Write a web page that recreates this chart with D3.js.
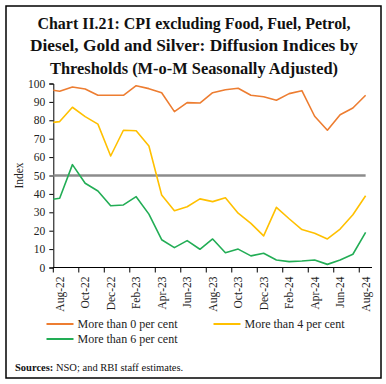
<!DOCTYPE html>
<html>
<head>
<meta charset="utf-8">
<script src="https://cdn.jsdelivr.net/npm/d3@7"></script>
<style>
  body { margin: 0; background: #fff; }
  svg { display: block; font-family: "Liberation Serif", serif; }
</style>
</head>
<body>
<svg id="chart" width="386" height="384"></svg>
<script>
// Months (Jul-22 only shows as the clipped stub at the left edge)
const months = ["Jul-22", "Aug-22", "Sep-22", "Oct-22", "Nov-22", "Dec-22", "Jan-23", "Feb-23", "Mar-23",
  "Apr-23", "May-23", "Jun-23", "Jul-23", "Aug-23", "Sep-23", "Oct-23", "Nov-23", "Dec-23",
  "Jan-24", "Feb-24", "Mar-24", "Apr-24", "May-24", "Jun-24", "Jul-24", "Aug-24"];

const tickLabels = ["Aug-22", "Oct-22", "Dec-22", "Feb-23", "Apr-23", "Jun-23", "Aug-23",
  "Oct-23", "Dec-23", "Feb-24", "Apr-24", "Jun-24", "Aug-24"];

const yTicks = [0, 10, 20, 30, 40, 50, 60, 70, 80, 90, 100];

// Diffusion indices
const moreThan0 = [96.8, 95.8, 98.1, 97.0, 93.6, 93.6, 93.6, 98.8, 97.2, 95.0, 84.7, 89.6, 89.4,
  95.0, 96.6, 97.4, 93.6, 92.8, 90.9, 94.5, 96.1, 82.2, 74.6, 83.0, 86.7, 93.6];
const moreThan4 = [78.5, 79.3, 87.1, 82.0, 77.9, 60.6, 74.6, 74.3, 66.0, 39.4, 30.9, 33.0, 37.3,
  35.8, 37.9, 29.5, 24.0, 17.2, 32.7, 26.5, 20.6, 18.6, 15.5, 20.9, 28.7, 39.0];
const moreThan6 = [36.6, 37.6, 55.9, 45.8, 41.6, 33.6, 34.0, 38.5, 29.0, 15.1, 10.8, 14.6, 9.9,
  15.5, 8.0, 10.0, 6.3, 7.7, 4.1, 3.2, 3.5, 4.1, 1.7, 4.1, 7.2, 19.1];
const threshold = months.map(() => 50);

const seriesNames = ["More than 0 per cent", "More than 4 per cent", "More than 6 per cent"];
const colors = ["#ED7D31", "#FFC000", "#22AD55"];

const svg = d3.select("#chart");

// Frame
svg.append("rect")
  .attr("x", 6).attr("y", 6)
  .attr("width", 375).attr("height", 372)
  .attr("fill", "none").attr("stroke", "#000").attr("stroke-width", 1.5);

// Title
const titleLines = [
  "Chart II.21: CPI excluding Food, Fuel, Petrol,",
  "Diesel, Gold and Silver: Diffusion Indices by",
  "Thresholds (M-o-M Seasonally Adjusted)"
];
const titleWidths = [313, 328, 288];
svg.append("g").selectAll("text")
  .data(titleLines)
  .enter().append("text")
  .attr("x", 194)
  .attr("y", (d, i) => 29 + i * 22.3)
  .attr("text-anchor", "middle")
  .attr("font-size", 16)
  .attr("font-weight", "bold")
  .attr("fill", "#111")
  .attr("textLength", (d, i) => titleWidths[i])
  .attr("lengthAdjust", "spacingAndGlyphs")
  .text(d => d);

// Plot area
const plotLeft = 53.3, plotRight = 372, plotTop = 83.5, plotBottom = 267.5;
const step = (plotRight - plotLeft) / 25;

const x = d3.scalePoint()
  .domain(months)
  .range([plotLeft - step / 2, plotRight - step / 2]);

const y = d3.scaleLinear()
  .domain([0, 100])
  .range([plotBottom, plotTop]);

svg.append("defs").append("clipPath")
  .attr("id", "plot-clip")
  .append("rect")
  .attr("x", plotLeft).attr("y", 0)
  .attr("width", plotRight - plotLeft).attr("height", 384);

// Y axis
const yAxis = svg.append("g")
  .attr("transform", "translate(" + plotLeft + ",0)")
  .call(d3.axisLeft(y).tickValues(yTicks).tickSize(4).tickPadding(4));
yAxis.select(".domain").attr("stroke", "#000");
yAxis.selectAll("text")
  .attr("font-family", "Liberation Serif")
  .attr("font-size", 11.5)
  .attr("fill", "#222");

svg.append("text")
  .attr("transform", "rotate(-90)")
  .attr("x", -y(50))
  .attr("y", 23)
  .attr("text-anchor", "middle")
  .attr("font-size", 11.5)
  .attr("fill", "#222")
  .text("Index");

// X axis
svg.append("line")
  .attr("x1", plotLeft).attr("x2", plotRight)
  .attr("y1", plotBottom).attr("y2", plotBottom)
  .attr("stroke", "#000");

svg.append("g").selectAll("line")
  .data(tickLabels)
  .enter().append("line")
  .attr("x1", d => x(d) - step / 2)
  .attr("x2", d => x(d) - step / 2)
  .attr("y1", plotBottom)
  .attr("y2", plotBottom + 5)
  .attr("stroke", "#000");

svg.append("g").selectAll("text")
  .data(tickLabels)
  .enter().append("text")
  .attr("transform", d => "translate(" + (x(d) + 4) + "," + (plotBottom + 9) + ") rotate(-90)")
  .attr("text-anchor", "end")
  .attr("font-size", 11.5)
  .attr("fill", "#222")
  .text(d => d);

// Lines
const line = d3.line()
  .x((d, i) => x(months[i]))
  .y(d => y(d));

const plot = svg.append("g").attr("clip-path", "url(#plot-clip)");

plot.append("path")
  .datum(threshold)
  .attr("d", line)
  .attr("fill", "none")
  .attr("stroke", "#8C8C8C")
  .attr("stroke-width", 2.5);

[moreThan0, moreThan4, moreThan6].forEach(function(values, k) {
  plot.append("path")
    .datum(values)
    .attr("d", line)
    .attr("fill", "none")
    .attr("stroke", colors[k])
    .attr("stroke-width", 1.6)
    .attr("stroke-linejoin", "round");
});

// Legend
const legendPos = [[46.5, 324], [213.5, 324], [46.5, 339]];
const legend = svg.append("g").selectAll("g")
  .data(seriesNames)
  .enter().append("g")
  .attr("transform", (d, i) => "translate(" + legendPos[i][0] + "," + legendPos[i][1] + ")");

legend.append("line")
  .attr("x1", 0).attr("x2", 27)
  .attr("stroke", (d, i) => colors[i])
  .attr("stroke-width", 2);

legend.append("text")
  .attr("x", 31)
  .attr("y", 4)
  .attr("font-size", 12)
  .attr("fill", "#222")
  .text(d => d);

// Source note
const note = svg.append("text")
  .attr("x", 15)
  .attr("y", 371)
  .attr("font-size", 10.5)
  .attr("fill", "#111");
note.append("tspan").attr("font-weight", "bold").text("Sources:");
note.append("tspan").text(" NSO; and RBI staff estimates.");
</script>
</body>
</html>
